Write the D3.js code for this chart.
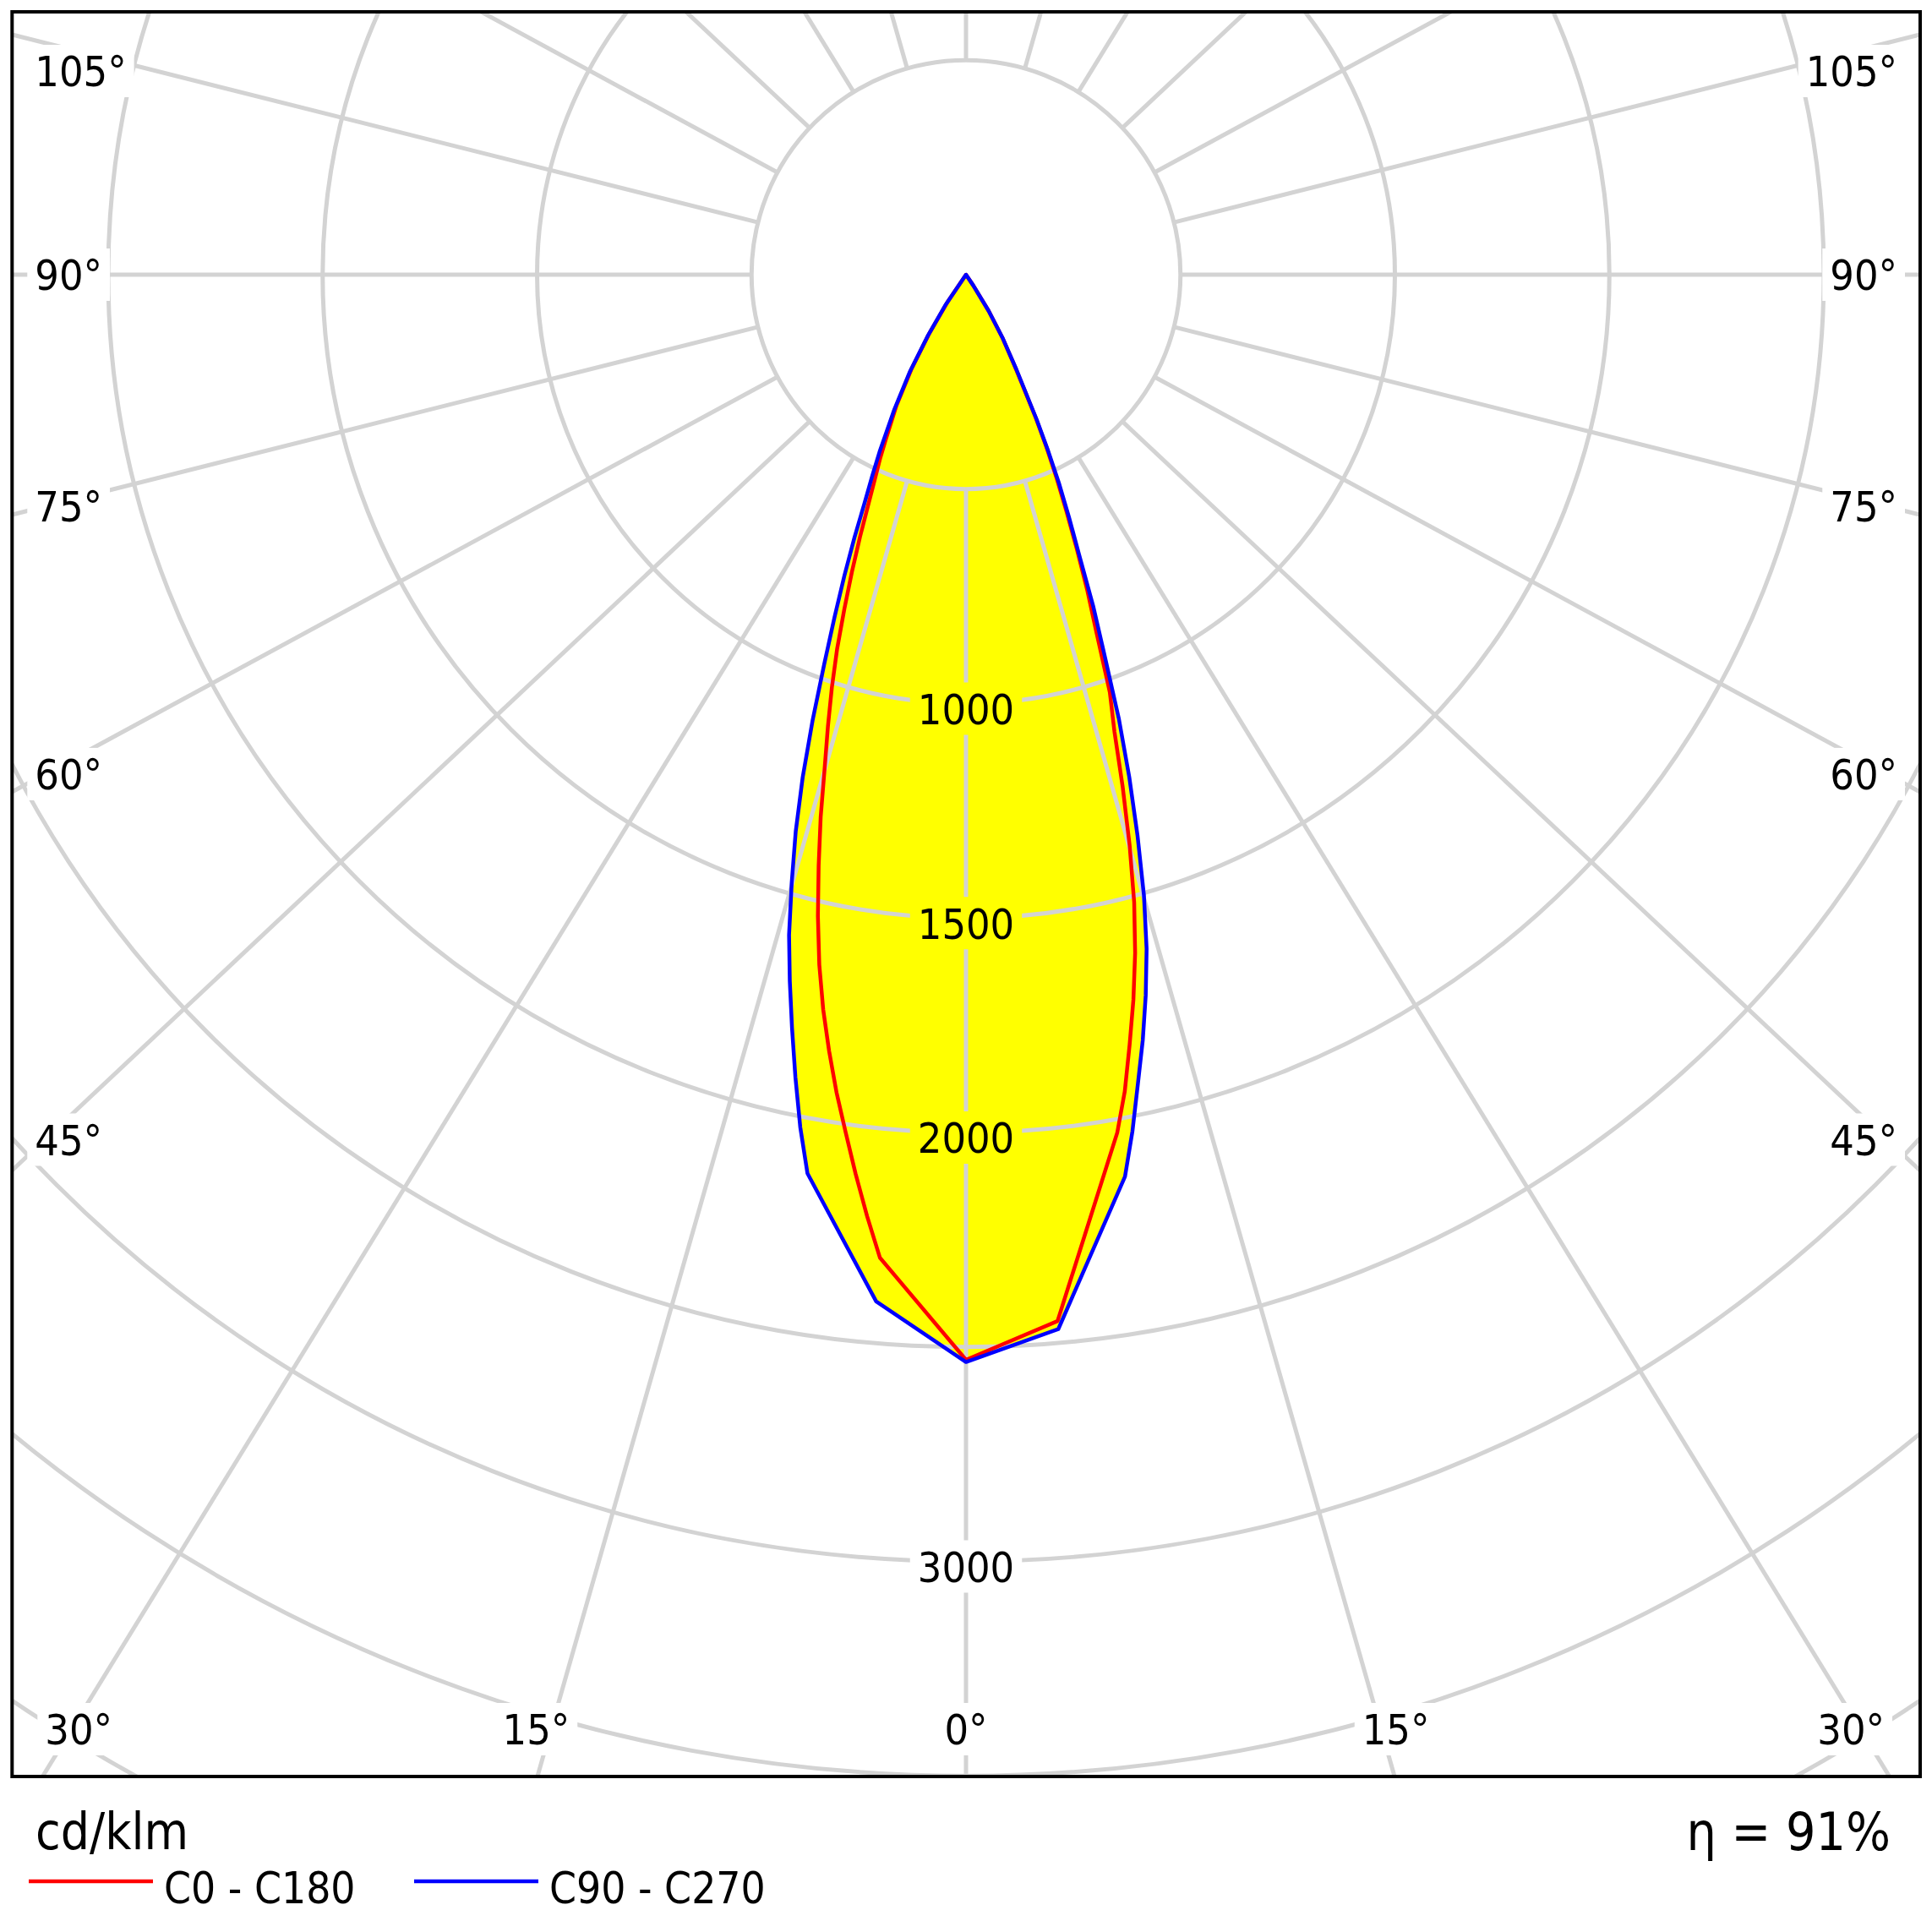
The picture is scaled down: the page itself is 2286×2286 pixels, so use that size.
<!DOCTYPE html>
<html>
<head>
<meta charset="utf-8">
<script src="https://cdn.jsdelivr.net/npm/d3@7"></script>
<style>
  body { margin: 0; background: #fff; }
  text { font-family: "DejaVu Sans Condensed", "DejaVu Sans", sans-serif; font-stretch: condensed; fill: #000; }
</style>
</head>
<body>
<div id="chart"></div>
<script>
  // polar luminous intensity diagram, cd/klm
  // gamma angles (deg from nadir); null = no point read at that angle
  const gamma = [0, 5, 6, 7, 8, 9, 10, 11, 12, 13, 14, 15, 16, 17, 18, 19, 20, 21, 22, 23, 24, 25, 26, 28, 30, 32, 34, 36, 90];

  // C0 - C180 plane (red): C0 on the right, C180 on the left
  const c0   = [2530, 2449, null, null, null, null, 2031, 1940, 1835, 1735, 1630, 1515, 1384, 1250, 1120, 1030, 892, 790, 690, 600, 520, 445, 370, 245, 170, 100, 30, 0, 0];
  const c180 = [2530, 2301, 2207, 2112, 2018, 1930, 1838, 1745, 1645, 1535, 1420, 1309, 1195, 1101, 1012, 923, 829, 742, 660, 584, 523, 475, 425, 345, 255, 160, 78, 0, 0];
  // C90 - C270 plane (blue): C90 on the right, C270 on the left
  const c90  = [2535, 2468, null, null, null, null, 2135, 2034, 1928, 1832, 1732, 1627, 1505, 1368, 1232, 1094, 945, 827, 704, 615, 535, 453, 376, 250, 172, 100, 30, 0, 0];
  const c270 = [2535, 2403, null, null, null, null, 2128, 2025, 1913, 1803, 1698, 1594, 1474, 1358, 1232, 1098, 967, 855, 757, 665, 579, 517, 460, 356, 263, 167, 87, 0, 0];

  const ringValues = [500, 1000, 1500, 2000, 2500, 3000, 3500, 4000];
  const ringLabels = [1000, 1500, 2000, 3000];
  const spokeAngles = d3.range(0, 360, 15);
  const angleLabels = [0, 15, 30, 45, 60, 75, 90, 105];
  const legendNames = ["C0 - C180", "C90 - C270"];
  const unitText = "cd/klm";
  const effText = "\u03b7 = 91%";

  const W = 2286, H = 2286,
    frame = {left: 14.3, top: 14, right: 2272, bottom: 2102},
    cx = 1143, cy = 325,
    stretch = 1.065,          // spokes of the original are drawn a bit wider than true angles
    labelSize = 50,
    red = "#ff0000", blue = "#0000ff", yellow = "#ffff00", grey = "#d3d3d3";

  const rScale = d3.scaleLinear().domain([0, 1000]).range([0, 507.5]);

  const svg = d3.select("#chart").append("svg")
      .attr("width", W)
      .attr("height", H);

  svg.append("rect").attr("width", W).attr("height", H).attr("fill", "#fff");

  const defs = svg.append("defs");
  defs.append("clipPath").attr("id", "frameClip")
    .append("rect")
      .attr("x", frame.left).attr("y", frame.top)
      .attr("width", frame.right - frame.left)
      .attr("height", frame.bottom - frame.top);

  const mask = defs.append("mask").attr("id", "labelMask")
      .attr("maskUnits", "userSpaceOnUse")
      .attr("x", 0).attr("y", 0).attr("width", W).attr("height", H);
  mask.append("rect").attr("width", W).attr("height", H).attr("fill", "#fff");

  const plot = svg.append("g").attr("clip-path", "url(#frameClip)");
  const fillLayer = plot.append("g").attr("transform", "translate(" + cx + "," + cy + ")");
  const gridLayer = plot.append("g").attr("mask", "url(#labelMask)");
  const curveLayer = plot.append("g").attr("transform", "translate(" + cx + "," + cy + ")");
  const labelLayer = svg.append("g");

  //points of one half plane, side -1 = left, 1 = right
  const halfPlane = function(values, side){
    return gamma.map((g, i) => [g, values[i]])
      .filter(d => d[1] != null)
      .map(d => [Math.PI - side * d[0] * Math.PI / 180, d[1]]);
  };
  const planePoints = (leftVals, rightVals) => halfPlane(leftVals, -1).reverse().concat(halfPlane(rightVals, 1));

  const radial = d3.lineRadial()
      .angle(d => d[0])
      .radius(d => rScale(d[1]));

  const planes = [
    {pts: planePoints(c180, c0), color: red},
    {pts: planePoints(c270, c90), color: blue}
  ];

  //yellow fill of both planes
  fillLayer.selectAll(".lobe")
    .data(planes)
    .enter().append("path")
      .attr("class", "lobe")
      .attr("d", d => radial(d.pts) + "Z")
      .attr("fill", yellow);

  //grid: rings and spokes
  gridLayer.selectAll(".ring")
    .data(ringValues)
    .enter().append("circle")
      .attr("class", "ring")
      .attr("cx", cx).attr("cy", cy)
      .attr("r", d => rScale(d))
      .attr("fill", "none")
      .attr("stroke", grey)
      .attr("stroke-width", 5);

  const spokeDir = function(deg, side){
    const a = deg * Math.PI / 180,
      dx = stretch * Math.sin(a) * (side || 1), dy = Math.cos(a),
      n = Math.hypot(dx, dy);
    return [dx / n, dy / n];
  };

  gridLayer.selectAll(".spoke")
    .data(spokeAngles)
    .enter().append("line")
      .attr("class", "spoke")
      .attr("x1", d => cx + spokeDir(d)[0] * rScale(500))
      .attr("y1", d => cy + spokeDir(d)[1] * rScale(500))
      .attr("x2", d => cx + spokeDir(d)[0] * 3200)
      .attr("y2", d => cy + spokeDir(d)[1] * 3200)
      .attr("stroke", grey)
      .attr("stroke-width", 5);

  //curves, blue drawn on top
  curveLayer.selectAll(".curve")
    .data(planes)
    .enter().append("path")
      .attr("class", "curve")
      .attr("d", d => radial(d.pts) + "Z")
      .attr("fill", "none")
      .attr("stroke", d => d.color)
      .attr("stroke-width", 4.5)
      .attr("stroke-linejoin", "round");

  //cut the grid lines behind a label
  const knockOut = function(node){
    const b = node.getBBox(),
      mid = +node.getAttribute("y") - 0.365 * labelSize;
    mask.append("rect")
      .attr("x", b.x - 9).attr("y", mid - 31)
      .attr("width", b.width + 18).attr("height", 62)
      .attr("fill", "#000");
  };

  //ring value labels along the nadir spoke
  labelLayer.selectAll(".ringLabel")
    .data(ringLabels)
    .enter().append("text")
      .attr("class", "ringLabel")
      .attr("x", cx)
      .attr("y", d => cy + rScale(d) + 6 + 0.365 * labelSize)
      .attr("text-anchor", "middle")
      .style("font-size", labelSize + "px")
      .text(d => d)
      .each(function(){ knockOut(this); });

  //angle labels at the frame
  const angleData = [];
  angleLabels.forEach(v => {
    (v === 0 ? [0] : [-1, 1]).forEach(s => angleData.push({v: v, side: s}));
  });

  const inset = 27, sideReach = 1090, bottomMid = 2046, topMid = 84;

  labelLayer.selectAll(".angleLabel")
    .data(angleData)
    .enter().append("text")
      .attr("class", "angleLabel")
      .style("font-size", labelSize + "px")
      .text(d => d.v + "\u00b0")
      .each(function(d){
        const t = d3.select(this),
          dir = spokeDir(d.v, d.side);
        if (d.v >= 45) {
          //label on a side: follow the spoke where it is sideReach px from the centre
          let mid = cy + sideReach * Math.abs(dir[1] / dir[0]) * Math.sign(dir[1]);
          mid = Math.max(mid, topMid);
          t.attr("x", d.side < 0 ? frame.left + inset : frame.right - inset)
            .attr("y", mid + 0.365 * labelSize)
            .attr("text-anchor", d.side < 0 ? "start" : "end");
        } else {
          //label along the bottom
          const rayX = d.side === 0 ? cx : cx + (bottomMid - cy) * dir[0] / dir[1];
          t.attr("x", rayX + d.side * 17.5)
            .attr("y", bottomMid + 0.365 * labelSize)
            .attr("text-anchor", "middle");
          const b = this.getBBox(),
            lo = frame.left + 39, hi = frame.right - 42;
          if (b.x < lo) t.attr("x", rayX + d.side * 17.5 + (lo - b.x));
          if (b.x + b.width > hi) t.attr("x", rayX + d.side * 17.5 - (b.x + b.width - hi));
        }
        knockOut(this);
      });

  //frame
  svg.append("rect")
      .attr("x", frame.left).attr("y", frame.top)
      .attr("width", frame.right - frame.left)
      .attr("height", frame.bottom - frame.top)
      .attr("fill", "none")
      .attr("stroke", "#000")
      .attr("stroke-width", 4);

  //unit and efficiency
  svg.append("text")
      .attr("x", 42).attr("y", 2188)
      .style("font-size", "60px")
      .text(unitText);

  svg.append("text")
      .attr("x", 2237).attr("y", 2189)
      .attr("text-anchor", "end")
      .style("font-size", "62px")
      .text(effText);

  //legend
  const legend = svg.selectAll(".legend")
    .data(legendNames)
    .enter().append("g")
      .attr("class", "legend")
      .attr("transform", (d, i) => "translate(" + (34 + 456 * i) + ",2226)");

  legend.append("line")
      .attr("x1", 0).attr("x2", 147)
      .attr("y1", 0).attr("y2", 0)
      .attr("stroke", (d, i) => planes[i].color)
      .attr("stroke-width", 4.5);

  legend.append("text")
      .attr("x", 160).attr("y", 26)
      .style("font-size", "51px")
      .text(d => d);
</script>
</body>
</html>
